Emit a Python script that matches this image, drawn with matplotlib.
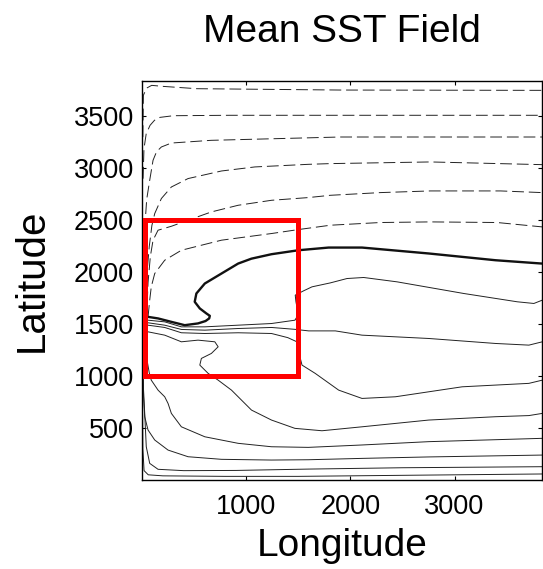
import matplotlib
matplotlib.use("Agg")
import matplotlib.pyplot as plt
from matplotlib.patches import Rectangle

plt.rcParams['font.family'] = ['Liberation Sans', 'DejaVu Sans']
plt.rcParams['lines.scale_dashes'] = False

# negative SST anomaly contours (dashed), listed north to south
neg1_x = [8, 13, 45, 93, 205, 526, 1904, 3840]
neg1_y = [3300, 3702, 3772, 3798, 3788, 3766, 3753, 3750]
neg2_x = [10, 19, 40, 77, 120, 173, 301, 846, 1904, 3840]
neg2_y = [2900, 3189, 3330, 3413, 3462, 3490, 3506, 3510, 3510, 3510]
neg3_x = [25, 45, 74, 106, 140, 186, 282, 663, 1904, 3840]
neg3_y = [2400, 2700, 2885, 3077, 3160, 3205, 3243, 3269, 3301, 3301]
neg4_x = [40, 70, 95, 122, 186, 282, 442, 763, 1084, 1596, 1808, 2769, 3840]
neg4_y = [1900, 2250, 2450, 2564, 2709, 2820, 2901, 2974, 3013, 3038, 3045, 3061, 3035]
neg5_x = [50, 58, 80, 106, 154, 282, 442, 666, 923, 1243, 1596, 1808, 2288, 2769, 3442, 3840]
neg5_y = [1700, 1900, 2150, 2308, 2404, 2442, 2500, 2580, 2644, 2692, 2718, 2740, 2766, 2782, 2782, 2766]
neg6_x = [58, 74, 89, 122, 218, 378, 763, 1243, 1500, 1808, 2288, 2769, 3410, 3840]
neg6_y = [1570, 1731, 1859, 1987, 2115, 2211, 2308, 2372, 2410, 2452, 2478, 2484, 2478, 2436]

# zero contour (bold)
zero_x = [30, 58, 154, 282, 410, 538, 610, 645, 651, 618, 555, 506, 522, 603, 763, 923,
          1050, 1243, 1500, 1791, 2112, 2753, 3394, 3840]
zero_y = [1555, 1570, 1555, 1522, 1490, 1507, 1530, 1555, 1580, 1603, 1651, 1715, 1795, 1891,
          1987, 2083, 2130, 2173, 2211, 2237, 2237, 2180, 2115, 2083]

# positive contours (solid thin), north to south
pos1_x = [30, 58, 218, 378, 603, 923, 1243, 1468, 1500, 1503, 1487, 1478, 1471, 1550, 1632,
          1808, 1968, 2128, 2449, 3089, 3603, 3762, 3843]
pos1_y = [1530, 1538, 1522, 1474, 1474, 1490, 1506, 1538, 1590, 1641, 1666, 1715, 1779, 1820,
          1859, 1897, 1939, 1949, 1907, 1795, 1715, 1699, 1731]
pos2_x = [30, 58, 218, 378, 603, 923, 1243, 1468, 1600, 1856, 2112, 2753, 3394, 3714, 3843]
pos2_y = [1490, 1513, 1490, 1449, 1442, 1458, 1468, 1450, 1435, 1435, 1394, 1362, 1314, 1298, 1330]
pos3_x = [30, 58, 218, 378, 603, 923, 1243, 1400, 1487, 1510, 1520, 1536, 1663, 1888, 2112,
          2433, 3074, 3714, 3843]
pos3_y = [1470, 1490, 1468, 1417, 1410, 1417, 1410, 1370, 1330, 1250, 1170, 1106, 1026, 865,
          785, 801, 897, 930, 961]
pos4_x = [30, 58, 218, 378, 538, 699, 731, 666, 570, 555, 635, 731, 859, 923, 1051, 1243,
          1468, 1728, 2112, 2753, 3394, 3714, 3843]
pos4_y = [1420, 1426, 1394, 1330, 1346, 1330, 1282, 1218, 1170, 1106, 1026, 961, 865, 801,
          673, 577, 497, 474, 512, 577, 609, 620, 641]
pos5_x = [20, 40, 70, 89, 154, 218, 250, 282, 378, 603, 923, 1243, 1596, 2112, 2753, 3843]
pos5_y = [1400, 1200, 1030, 961, 865, 801, 737, 641, 512, 416, 353, 320, 314, 337, 369, 401]
pos6_x = [10, 15, 26, 58, 122, 250, 442, 763, 1243, 1596, 2112, 2753, 3843]
pos6_y = [1300, 800, 609, 481, 385, 288, 224, 199, 192, 195, 208, 222, 240]
pos7_x = [5, 10, 26, 41, 74, 154, 400, 900, 1596, 2500, 3843]
pos7_y = [1300, 961, 641, 320, 160, 103, 90, 92, 105, 118, 128]
pos8_x = [3, 8, 20, 60, 200, 800, 1500, 2500, 3843]
pos8_y = [1200, 300, 90, 50, 40, 35, 35, 45, 58]

# region of interest
box_x = [30, 1500]
box_y = [1000, 2500]

xticks = [1000, 2000, 3000]
yticks = [500, 1000, 1500, 2000, 2500, 3000, 3500]

negative = [(neg1_x, neg1_y), (neg2_x, neg2_y), (neg3_x, neg3_y),
            (neg4_x, neg4_y), (neg5_x, neg5_y), (neg6_x, neg6_y)]
positive = [(pos1_x, pos1_y), (pos2_x, pos2_y), (pos3_x, pos3_y), (pos4_x, pos4_y),
            (pos5_x, pos5_y), (pos6_x, pos6_y), (pos7_x, pos7_y), (pos8_x, pos8_y)]

fig = plt.figure(figsize=(5.43, 5.69), dpi=100)
ax = fig.add_axes([142 / 543, 89 / 569, 400 / 543, 399 / 569])

for xs, ys in negative:
    ax.plot(xs, ys, color='#222222', lw=0.7, linestyle=(0, (8.5, 3.5)))
for xs, ys in positive:
    ax.plot(xs, ys, color='#222222', lw=0.7)
ax.plot(zero_x, zero_y, color='#111111', lw=1.7)

ax.add_patch(Rectangle((box_x[0], box_y[0]), box_x[1] - box_x[0], box_y[1] - box_y[0],
                       fill=False, edgecolor='red', lw=3.6, zorder=5, clip_on=False))

ax.set_xlim(0, 3840)
ax.set_ylim(0, 3840)
ax.set_xticks(xticks)
ax.set_yticks(yticks)
ax.tick_params(direction='in', length=3, width=0.8, top=True, right=True, labelsize=19.5)
ax.tick_params(axis='x', pad=10)
ax.tick_params(axis='y', pad=6)
for s in ax.spines.values():
    s.set_linewidth(1.0)

ax.set_title('Mean SST Field', fontsize=28, pad=28)
ax.set_xlabel('Longitude', fontsize=28, labelpad=6)
ax.set_ylabel('Latitude', fontsize=29, labelpad=16)

fig.savefig('out.png', dpi=100)
